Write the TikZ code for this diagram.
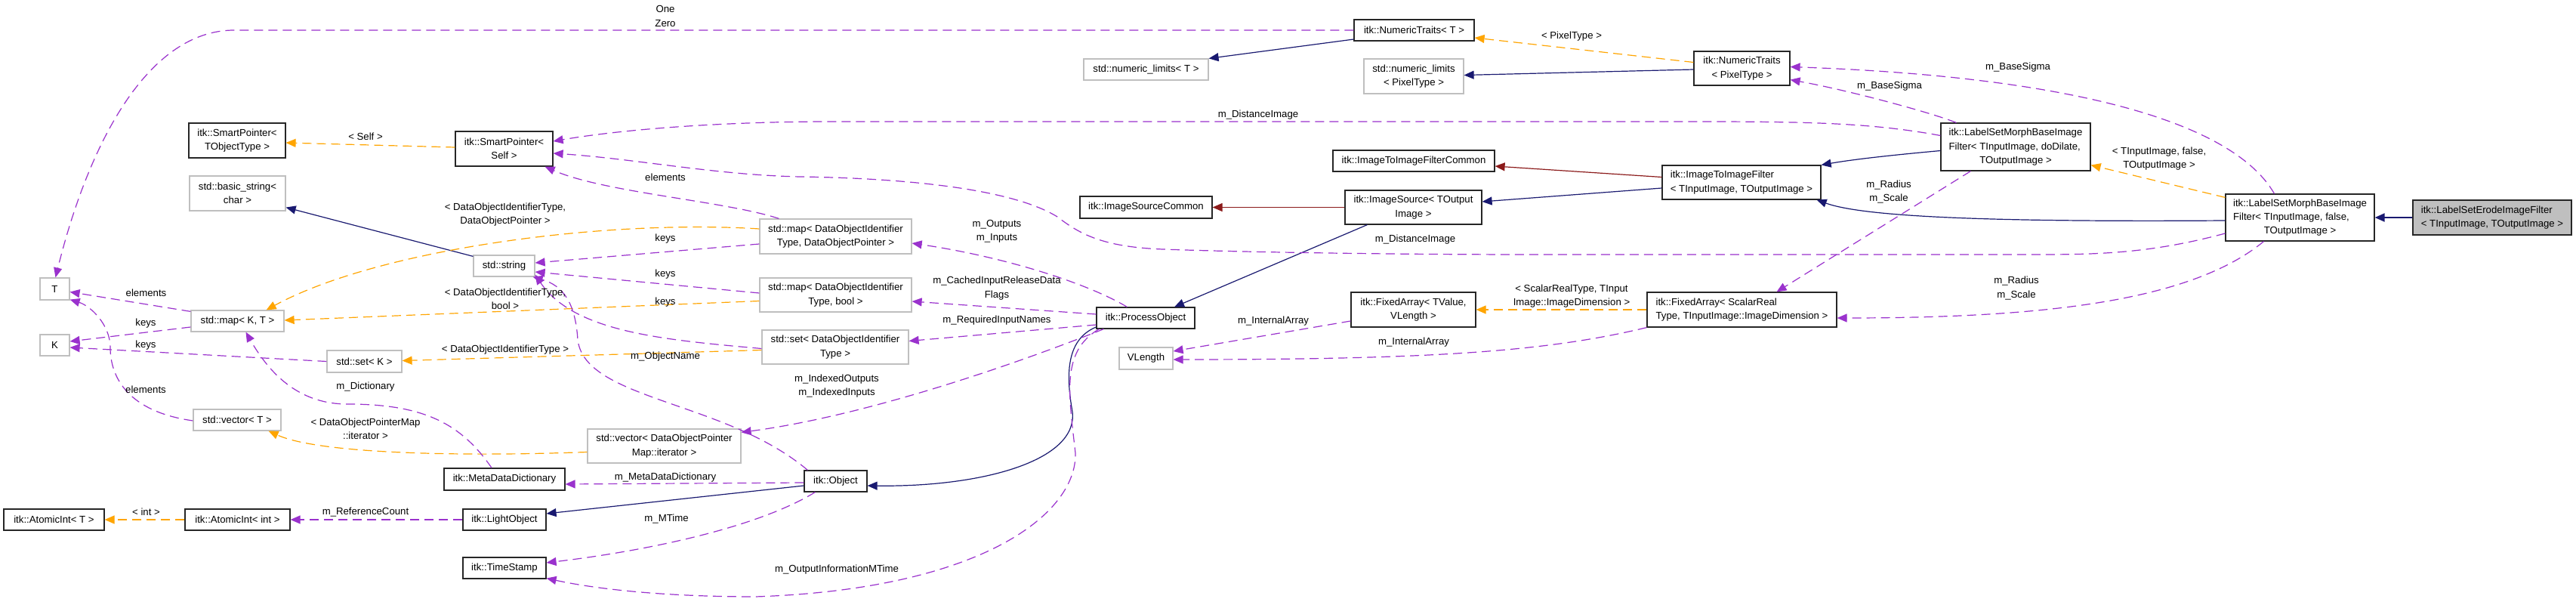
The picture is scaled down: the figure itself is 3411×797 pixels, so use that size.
\documentclass[tikz,border=0pt]{standalone}
\usepackage{fontspec}
\setmainfont{Liberation Sans}
\usetikzlibrary{arrows.meta,calc}
\definecolor{usecol}{HTML}{9A32CD}
\definecolor{tplcol}{HTML}{FFA500}
\definecolor{inhcol}{HTML}{191970}
\definecolor{redcol}{HTML}{8B1A1A}
\definecolor{grayb}{HTML}{BFBFBF}
\tikzset{
  cls/.style={draw=black!85, line width=0.6pt, inner sep=0pt, align=center, fill=white},
  clsB/.style={cls},
  clsG/.style={cls, draw=grayb},
  lbl/.style={inner sep=0pt, align=center},
  ahead/.style={-{Triangle[length=6.5pt,width=5.5pt]}},
  inhE/.style={draw=inhcol, line width=0.6pt, ahead},
  redE/.style={draw=redcol, line width=0.6pt, ahead},
  tplE/.style={draw=tplcol, line width=0.6pt, dash pattern=on 6pt off 3.5pt, ahead},
  useE/.style={draw=usecol, line width=0.6pt, dash pattern=on 6pt off 3.5pt, ahead}
}
\begin{document}
\begin{tikzpicture}[x=0.5pt,y=-0.5pt,font=\fontsize{6.6}{9.15}\selectfont]
\fill[white] (0,0) rectangle (3411,797);
\useasboundingbox (0,0) rectangle (3411,797);

% ---------- classes ----------
\node[clsB, minimum width=64pt, minimum height=23pt] (spTO) at (314,186) {itk::SmartPointer<\\TObjectType >};
\node[clsB, minimum width=64.5pt, minimum height=23pt] (spSelf) at (667.5,197) {itk::SmartPointer<\\Self >};
\node[clsG, minimum width=63.5pt, minimum height=23pt] (bstr) at (314.5,256) {std::basic\_string<\\char >};
\node[clsG, minimum width=40.5pt, minimum height=14pt] (str) at (667.5,352) {std::string};
\node[clsG, minimum width=19.5pt, minimum height=14.5pt] (T) at (72.5,382.5) {T};
\node[clsG, minimum width=61.5pt, minimum height=14pt] (mapKT) at (314.5,425) {std::map< K, T >};
\node[clsG, minimum width=19.5pt, minimum height=14pt] (K) at (72.5,457) {K};
\node[clsG, minimum width=49.5pt, minimum height=14.5pt] (setK) at (482.5,478.5) {std::set< K >};
\node[clsG, minimum width=58pt, minimum height=14pt] (vecT) at (314,556) {std::vector< T >};
\node[clsB, minimum width=80pt, minimum height=14.5pt] (mdd) at (668,634.5) {itk::MetaDataDictionary};
\node[clsB, minimum width=66.5pt, minimum height=14pt] (aiT) at (71.5,688) {itk::AtomicInt< T >};
\node[clsB, minimum width=69.5pt, minimum height=14pt] (aiInt) at (314.5,688) {itk::AtomicInt< int >};
\node[clsB, minimum width=55pt, minimum height=14pt] (lo) at (668,688) {itk::LightObject};
\node[clsB, minimum width=55pt, minimum height=14pt] (ts) at (668,752) {itk::TimeStamp};
\node[clsG, minimum width=101.5pt, minimum height=22.5pt] (vecDOP) at (879.5,590.5) {std::vector< DataObjectPointer\\Map::iterator >};
\node[clsG, minimum width=82.5pt, minimum height=14pt] (nlT) at (1517.5,92) {std::numeric\_limits< T >};
\node[clsB, minimum width=87.5pt, minimum height=14.5pt] (isc) at (1517.5,274.5) {itk::ImageSourceCommon};
\node[clsG, minimum width=100.5pt, minimum height=23pt] (mapDOP) at (1106.5,313) {std::map< DataObjectIdentifier\\Type, DataObjectPointer >};
\node[clsG, minimum width=100.5pt, minimum height=22.5pt] (mapBool) at (1106.5,390.5) {std::map< DataObjectIdentifier\\Type, bool >};
\node[clsG, minimum width=97pt, minimum height=22.5pt] (setDOIT) at (1106,459.5) {std::set< DataObjectIdentifier\\Type >};
\node[clsB, minimum width=65pt, minimum height=14pt] (po) at (1517,421) {itk::ProcessObject};
\node[clsG, minimum width=35.5pt, minimum height=14.5pt] (vl) at (1517.5,474.5) {VLength};
\node[clsB, minimum width=41.5pt, minimum height=14pt] (obj) at (1106.5,637) {itk::Object};
\node[clsB, minimum width=79.5pt, minimum height=14pt] (ntT) at (1872.5,40) {itk::NumericTraits< T >};
\node[clsG, minimum width=66pt, minimum height=23pt] (nlPT) at (1872,101) {std::numeric\_limits\\< PixelType >};
\node[clsB, minimum width=63.5pt, minimum height=22.5pt] (ntPT) at (2306.5,90.5) {itk::NumericTraits\\< PixelType >};
\node[clsB, minimum width=107pt, minimum height=14pt] (itifc) at (1872,213) {itk::ImageToImageFilterCommon};
\node[clsB, minimum width=90.5pt, minimum height=22.5pt] (isrc) at (1871.5,274.5) {itk::ImageSource< TOutput\\Image >};
\node[clsB, align=left, minimum width=105pt, minimum height=22.5pt] (itif) at (2306,241.5) {itk::ImageToImageFilter\\< TInputImage, TOutputImage >};
\node[clsB, minimum width=82.5pt, minimum height=23pt] (faTV) at (1871.5,410) {itk::FixedArray< TValue,\\VLength >};
\node[clsB, align=left, minimum width=125.5pt, minimum height=23pt] (faSR) at (2306.5,410) {itk::FixedArray< ScalarReal\\Type, TInputImage::ImageDimension >};
\node[clsB, minimum width=99pt, minimum height=31.5pt] (lsmbD) at (2669,194.5) {\begin{tabular}{@{}l@{}}itk::LabelSetMorphBaseImage\\Filter< TInputImage, doDilate,\\\multicolumn{1}{@{}c@{}}{TOutputImage >}\end{tabular}};
\node[clsB, minimum width=98.5pt, minimum height=31pt] (lsmbF) at (3045.5,288) {\begin{tabular}{@{}l@{}}itk::LabelSetMorphBaseImage\\Filter< TInputImage, false,\\\multicolumn{1}{@{}c@{}}{TOutputImage >}\end{tabular}};
\node[clsB, fill=grayb, align=left, minimum width=105pt, minimum height=23pt] (lse) at (3300,288) {itk::LabelSetErodeImageFilter\\< TInputImage, TOutputImage >};

% ---------- inheritance ----------
\draw[inhE, line width=1pt] (lse.west) -- (lsmbF.east);
\draw[inhE] ($(lsmbF.west)+(0,4)$) .. controls (2650,294) and (2470,288) .. ($(itif.south east)+(-6,0)$);
\draw[inhE] ($(lsmbD.west)+(0,5)$) .. controls (2520,204) and (2460,210) .. (itif.north east);
\draw[inhE] ($(itif.west)+(0,7.5)$) -- ($(isrc.east)+(0,-7.5)$);
\draw[redE] ($(itif.west)+(0,-7)$) -- ($(itifc.east)+(0,7)$);
\draw[redE] (isrc.west) -- (isc.east);
\draw[inhE] ($(isrc.south west)+(30,0)$) -- ($(po.north)+(38,0)$);
\draw[inhE] ($(po.west)+(0,12)$) .. controls (1410,450) and (1412,500) .. (1420,545) .. controls (1428,610) and (1300,645) .. ($(obj.east)+(0,6)$);
\draw[inhE] ($(obj.west)+(0,6)$) -- ($(lo.east)+(0,-8)$);
\draw[inhE] ($(ntPT.west)+(0,1.5)$) -- ($(nlPT.east)+(0,-1.5)$);
\draw[inhE] ($(ntT.west)+(0,12)$) -- (nlT.north east);
\draw[inhE] ($(str.north west)+(0,2)$) -- ($(bstr.south east)+(0,-5)$);

% ---------- template instances ----------
\draw[tplE] ($(ntPT.west)+(0,-8)$) -- ($(ntT.east)+(0,10)$);
\draw[tplE] ($(lsmbF.north west)+(0,5)$) -- ($(lsmbD.south east)+(0,-8)$);
\draw[tplE] (faSR.west) -- (faTV.east);
\draw[tplE] ($(spSelf.west)+(0,-2)$) -- ($(spTO.east)+(0,3)$);
\draw[tplE] (aiInt.west) -- (aiT.east);
\draw[tplE] ($(mapDOP.west)+(0,-10)$) .. controls (800,290) and (500,330) .. ($(mapKT.north east)+(-24,0)$);
\draw[tplE] ($(mapBool.west)+(0,8)$) -- ($(mapKT.east)+(0,-1)$);
\draw[tplE] ($(setDOIT.west)+(0,4)$) -- ($(setK.east)+(0,-1)$);
\draw[tplE] ($(vecDOP.west)+(0,8)$) .. controls (600,605) and (420,600) .. ($(vecT.south east)+(-17,0)$);

% ---------- usage ----------
\draw[useE] (ntT.west) -- (310,40) .. controls (200,40) and (120,180) .. ($(T.north)+(1,0)$);
\draw[useE] ($(lsmbF.north)+(-34,0)$) .. controls (2950,150) and (2700,100) .. ($(ntPT.east)+(0,-2)$);
\draw[useE] ($(lsmbD.north west)+(21,0)$) .. controls (2560,150) and (2450,120) .. ($(ntPT.south east)+(0,-8)$);
\draw[useE] ($(lsmbD.west)+(0,-15)$) .. controls (2480,163) and (2400,161) .. (2250,161) -- (1100,161) .. controls (950,161) and (820,172) .. ($(spSelf.east)+(0,-10)$);
\draw[useE] ($(lsmbF.west)+(0,21)$) .. controls (2850,335) and (2780,337) .. (2700,337) -- (2030,337) .. controls (1850,337) and (1650,334) .. (1540,330) .. controls (1460,327) and (1430,310) .. (1400,287) .. controls (1340,250) and (1200,236) .. (1060,234) .. controls (950,232) and (840,210) .. ($(spSelf.east)+(0,6)$);
\draw[useE] ($(mapDOP.north west)+(26,0)$) .. controls (960,266) and (800,255) .. ($(spSelf.south east)+(-11,0)$);
\draw[useE] ($(lsmbF.south)+(-48,0)$) .. controls (2900,400) and (2700,421) .. ($(faSR.east)+(0,11)$);
\draw[useE] ($(lsmbD.south west)+(40,0)$) -- ($(faSR.north)+(46,0)$);
\draw[useE] (faSR.south west) .. controls (2050,465) and (1900,476) .. ($(vl.east)+(0,1.5)$);
\draw[useE] ($(faTV.west)+(0,15)$) -- ($(vl.east)+(0,-9.5)$);
\draw[useE] ($(po.north west)+(41,0)$) .. controls (1440,375) and (1330,340) .. ($(mapDOP.east)+(0,9)$);
\draw[useE] ($(po.west)+(0,-5)$) -- ($(mapBool.east)+(0,8.5)$);
\draw[useE] ($(po.west)+(0,9)$) -- ($(setDOIT.east)+(0,-8)$);
\draw[useE] ($(po.south west)+(10,0)$) .. controls (1350,480) and (1150,550) .. ($(vecDOP.north east)+(0,5)$);
\draw[useE] ($(po.south west)+(4,0)$) .. controls (1405,465) and (1415,520) .. (1424,600) .. controls (1426,680) and (1300,780) .. (1000,790) .. controls (880,790) and (790,780) .. ($(ts.south east)+(0,-1)$);
\draw[useE] ($(mapDOP.west)+(0,10)$) -- ($(str.east)+(0,-4)$);
\draw[useE] ($(mapBool.west)+(0,-2.5)$) -- ($(str.east)+(0,8)$);
\draw[useE] ($(setDOIT.west)+(0,2)$) .. controls (880,450) and (760,440) .. ($(str.south east)+(0,-3)$);
\draw[useE] ($(obj.north west)+(5,0)$) .. controls (960,530) and (775,530) .. (765,450) .. controls (762,400) and (745,378) .. ($(str.south east)+(-3,0)$);
\draw[useE] ($(obj.west)+(0,2)$) -- ($(mdd.east)+(0,6.5)$);
\draw[useE] ($(mdd.north)+(-17,0)$) .. controls (610,560) and (560,535) .. (460,535) .. controls (400,535) and (360,500) .. ($(mapKT.south)+(11,0)$);
\draw[useE] ($(mapKT.north west)+(0,2)$) -- ($(T.east)+(0,4)$);
\draw[useE] ($(vecT.west)+(0,1)$) .. controls (170,545) and (146,500) .. (146,460) .. controls (146,430) and (120,405) .. ($(T.south east)+(0,-1)$);
\draw[useE] ($(mapKT.west)+(0,8)$) -- ($(K.east)+(0,-5)$);
\draw[useE] (setK.west) -- ($(K.east)+(0,3)$);
\draw[useE] (lo.west) -- (aiInt.east);
\draw[useE] ($(obj.south west)+(15,0)$) .. controls (1000,700) and (850,730) .. ($(ts.east)+(0,-7)$);

% ---------- labels ----------
\node[lbl] (lOne) at (881,21.5) {One\\Zero};
\node[lbl] (lPix) at (2081,47.7) {< PixelType >};
\node[lbl] (lBS1) at (2672,89) {m\_BaseSigma};
\node[lbl] (lBS2) at (2502,114.3) {m\_BaseSigma};
\node[lbl] (lDI1) at (1666,151.7) {m\_DistanceImage};
\node[lbl] (lSelf) at (484,181) {< Self >};
\node[lbl] (lEl1) at (881,235) {elements};
\node[lbl] (lTF) at (2859,210) {< TInputImage, false,\\TOutputImage >};
\node[lbl] (lRS1) at (2501,254) {m\_Radius\\m\_Scale};
\node[lbl] (lDOP) at (669,284) {< DataObjectIdentifierType,\\DataObjectPointer >};
\node[lbl] (lOI) at (1320,306) {m\_Outputs\\m\_Inputs};
\node[lbl] (lK1) at (881,315.7) {keys};
\node[lbl] (lDI2) at (1874,316.7) {m\_DistanceImage};
\node[lbl] (lK2) at (881,363.3) {keys};
\node[lbl] (lCI) at (1320,381.5) {m\_CachedInputReleaseData\\Flags};
\node[lbl] (lSR) at (2081,392) {< ScalarRealType, TInput\\Image::ImageDimension >};
\node[lbl] (lRS2) at (2670,381.5) {m\_Radius\\m\_Scale};
\node[lbl] (lEl2) at (193.5,388) {elements};
\node[lbl] (lBool) at (669,395.5) {< DataObjectIdentifierType,\\bool >};
\node[lbl] (lK3) at (881,400) {keys};
\node[lbl] (lRI) at (1320,424.3) {m\_RequiredInputNames};
\node[lbl] (lIA1) at (1686,424.7) {m\_InternalArray};
\node[lbl] (lK4) at (193,427.7) {keys};
\node[lbl] (lIA2) at (1872,452.7) {m\_InternalArray};
\node[lbl] (lK5) at (193,456.7) {keys};
\node[lbl] (lDOIT) at (669,462.7) {< DataObjectIdentifierType >};
\node[lbl] (lON) at (881,471.7) {m\_ObjectName};
\node[lbl] (lIdx) at (1108,511) {m\_IndexedOutputs\\m\_IndexedInputs};
\node[lbl] (lDict) at (484,512) {m\_Dictionary};
\node[lbl] (lEl3) at (193,515.7) {elements};
\node[lbl] (lIt) at (484,568) {< DataObjectPointerMap\\::iterator >};
\node[lbl] (lMDD) at (881,631.7) {m\_MetaDataDictionary};
\node[lbl] (lInt) at (193.5,678) {< int >};
\node[lbl] (lRC) at (484,678) {m\_ReferenceCount};
\node[lbl] (lMT) at (882.5,686.7) {m\_MTime};
\node[lbl] (lOIM) at (1108,754.3) {m\_OutputInformationMTime};
\end{tikzpicture}
\end{document}
